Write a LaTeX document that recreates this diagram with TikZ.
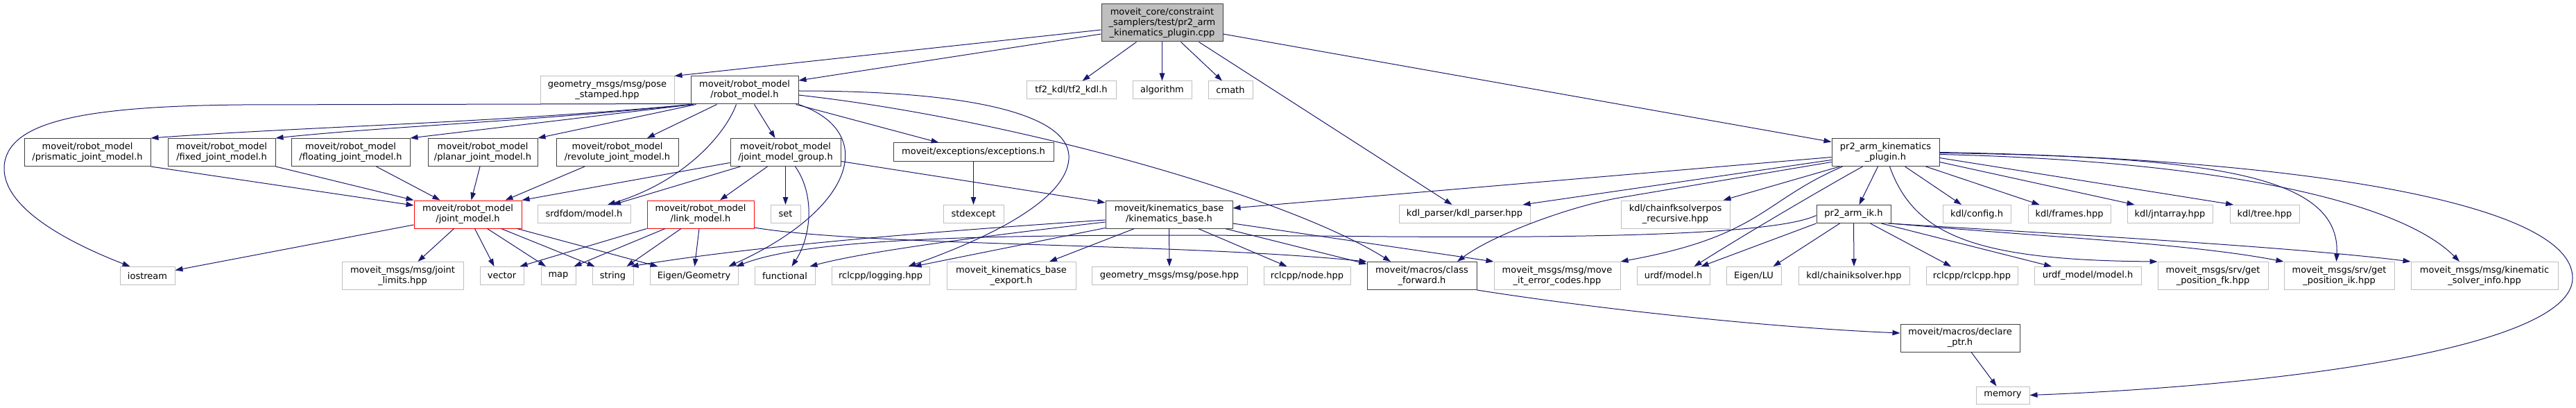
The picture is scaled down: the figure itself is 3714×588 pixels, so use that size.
\documentclass[tikz,border=0pt]{standalone}
\usepackage{fontspec}
\setmainfont{DejaVu Sans}
\usetikzlibrary{arrows.meta,calc}
\definecolor{edgec}{HTML}{191970}
\definecolor{greyB}{HTML}{BFBFBF}
\definecolor{greyD}{HTML}{404040}
\definecolor{redB}{HTML}{FF0000}
\tikzset{
  base/.style={rectangle, inner sep=0pt, align=center, fill=white, text=black,
    font=\fontsize{13pt}{15pt}\selectfont, line width=1pt},
  gbox/.style={base, draw=greyB},
  dbox/.style={base, draw=greyD},
  rbox/.style={base, draw=redB},
  mainbox/.style={base, draw=greyD, fill=greyB},
  sz/.style 2 args={minimum width=#1pt, minimum height=#2pt},
  edge/.style={draw=edgec, line width=1pt, -{Triangle[length=11pt,width=7.5pt]}}
}
\begin{document}
\begin{tikzpicture}[x=1pt,y=-1pt]
\fill[white] (0,0) rectangle (3714,588);
\useasboundingbox (0,0) rectangle (3714,588);
% rank 0
\node[mainbox,sz={175}{54}] (main) at (1675.5,33) {moveit\_core/constraint\\\_samplers/test/pr2\_arm\\\_kinematics\_plugin.cpp};
% rank 1
\node[gbox,sz={193}{40}] (pose) at (875.5,130) {geometry\_msgs/msg/pose\\\_stamped.hpp};
\node[dbox,sz={155}{40}] (robot) at (1073.5,130) {moveit/robot\_model\\/robot\_model.h};
\node[gbox,sz={129}{26}] (tf) at (1544.5,130) {tf2\_kdl/tf2\_kdl.h};
\node[gbox,sz={85}{26}] (algo) at (1675.5,130) {algorithm};
\node[gbox,sz={64}{26}] (cmath) at (1774,130) {cmath};
% rank 2
\node[dbox,sz={182}{40}] (prism) at (126,219.5) {moveit/robot\_model\\/prismatic\_joint\_model.h};
\node[dbox,sz={155}{40}] (fixed) at (319.5,219.5) {moveit/robot\_model\\/fixed\_joint\_model.h};
\node[dbox,sz={171}{40}] (float) at (505.5,219.5) {moveit/robot\_model\\/floating\_joint\_model.h};
\node[dbox,sz={158}{40}] (planar) at (696,219.5) {moveit/robot\_model\\/planar\_joint\_model.h};
\node[dbox,sz={176}{40}] (revol) at (890,219.5) {moveit/robot\_model\\/revolute\_joint\_model.h};
\node[dbox,sz={159}{40}] (jmg) at (1132.5,219.5) {moveit/robot\_model\\/joint\_model\_group.h};
\node[dbox,sz={231}{26}] (exc) at (1403.5,219) {moveit/exceptions/exceptions.h};
\node[dbox,sz={155}{40}] (plugin) at (2718.5,219.5) {pr2\_arm\_kinematics\\\_plugin.h};
% rank 3
\node[rbox,sz={155}{40}] (jm) at (674.5,309) {moveit/robot\_model\\/joint\_model.h};
\node[gbox,sz={134}{26}] (srdf) at (842,308.5) {srdfdom/model.h};
\node[rbox,sz={154}{40}] (lm) at (1010,309) {moveit/robot\_model\\/link\_model.h};
\node[gbox,sz={43}{26}] (set) at (1132.5,308.5) {set};
\node[gbox,sz={87}{26}] (stdex) at (1403.5,308.5) {stdexcept};
\node[dbox,sz={183}{40}] (kb) at (1685.5,309) {moveit/kinematics\_base\\/kinematics\_base.h};
\node[gbox,sz={189}{26}] (kdlp) at (2111.5,308.5) {kdl\_parser/kdl\_parser.hpp};
\node[gbox,sz={157}{40}] (cfk) at (2415.5,309) {kdl/chainfksolverpos\\\_recursive.hpp};
\node[dbox,sz={107}{26}] (ik) at (2672.5,308.5) {pr2\_arm\_ik.h};
\node[gbox,sz={98}{26}] (kcfg) at (2850,308.5) {kdl/config.h};
\node[gbox,sz={119}{26}] (kfr) at (2983.5,308.5) {kdl/frames.hpp};
\node[gbox,sz={123}{26}] (kjnt) at (3128.5,308.5) {kdl/jntarray.hpp};
\node[gbox,sz={100}{26}] (ktree) at (3265,308.5) {kdl/tree.hpp};
% rank 4
\node[gbox,sz={79}{26}] (ios) at (212.5,397.5) {iostream};
\node[gbox,sz={175}{40}] (jlim) at (580.5,397.5) {moveit\_msgs/msg/joint\\\_limits.hpp};
\node[gbox,sz={63}{26}] (vec) at (723.5,397.5) {vector};
\node[gbox,sz={50}{26}] (map) at (805,397.5) {map};
\node[gbox,sz={59}{26}] (str) at (883.5,397.5) {string};
\node[gbox,sz={127}{26}] (eig) at (1000.5,397.5) {Eigen/Geometry};
\node[gbox,sz={87}{26}] (func) at (1131.5,397.5) {functional};
\node[gbox,sz={141}{26}] (log) at (1269.5,397.5) {rclcpp/logging.hpp};
\node[gbox,sz={186}{40}] (kbx) at (1458,397.5) {moveit\_kinematics\_base\\\_export.h};
\node[gbox,sz={224}{26}] (pose2) at (1686,397.5) {geometry\_msgs/msg/pose.hpp};
\node[gbox,sz={125}{26}] (node) at (1884.5,397.5) {rclcpp/node.hpp};
\node[dbox,sz={158}{40}] (cfwd) at (2050,397.5) {moveit/macros/class\\\_forward.h};
\node[gbox,sz={182}{40}] (err) at (2245,397.5) {moveit\_msgs/msg/move\\\_it\_error\_codes.hpp};
\node[gbox,sz={105}{26}] (urdf) at (2412.5,397.5) {urdf/model.h};
\node[gbox,sz={79}{26}] (elu) at (2528.5,397.5) {Eigen/LU};
\node[gbox,sz={160}{26}] (cik) at (2673,397.5) {kdl/chainiksolver.hpp};
\node[gbox,sz={132}{26}] (rcl) at (2843,397.5) {rclcpp/rclcpp.hpp};
\node[gbox,sz={154}{26}] (urdfm) at (3010,397.5) {urdf\_model/model.h};
\node[gbox,sz={159}{40}] (gfk) at (3190.5,397.5) {moveit\_msgs/srv/get\\\_position\_fk.hpp};
\node[gbox,sz={159}{40}] (gik) at (3372.5,397.5) {moveit\_msgs/srv/get\\\_position\_ik.hpp};
\node[gbox,sz={212}{40}] (ksi) at (3582,397.5) {moveit\_msgs/msg/kinematic\\\_solver\_info.hpp};
% rank 5,6
\node[dbox,sz={172}{40}] (dptr) at (2826,487) {moveit/macros/declare\\\_ptr.h};
\node[gbox,sz={77}{25}] (mem) at (2887.5,569.5) {memory};

% ---- edges from main
\draw[edge] ($(main.west)+(0,10)$) -- (pose.north east);
\draw[edge] ($(main.west)+(0,16)$) -- ($(robot.east)+(0,-14)$);
\draw[edge] ($(main.south)+(-37,0)$) -- ($(tf.north)+(16,0)$);
\draw[edge] (main.south) -- (algo.north);
\draw[edge] ($(main.south)+(27,0)$) -- ($(cmath.north)+(-12,0)$);
\draw[edge] ($(main.south)+(53,0)$) -- ($(kdlp.north)+(-18,0)$);
\draw[edge] ($(main.east)+(0,16)$) -- ($(plugin.west)+(0,-15)$);

% ---- edges from robot_model
\draw[edge] ($(robot.south west)+(0,-1)$) -- (350,151) .. controls (120,153) and (10,175) .. (6,240) .. controls (3,300) and (100,350) .. ($(ios.north)+(-25,0)$);
\draw[edge] ($(robot.south west)+(2,0)$) .. controls (700,178) and (450,182) .. (prism.north east);
\draw[edge] ($(robot.south west)+(2,0)$) .. controls (750,176) and (560,182) .. (fixed.north east);
\draw[edge] ($(robot.south west)+(4,0)$) -- (float.north east);
\draw[edge] ($(robot.south west)+(8,0)$) -- (planar.north east);
\draw[edge] ($(robot.south)+(-40,0)$) -- ($(revol.north)+(43,0)$);
\draw[edge] ($(robot.south)+(14,0)$) -- ($(jmg.north)+(-15,0)$);
\draw[edge] ($(robot.south)+(-12,0)$) .. controls (1045,195) and (985,262) .. ($(srdf.north)+(34,0)$);
\draw[edge] (robot.south east) .. controls (1265,190) and (1235,300) .. ($(eig.north)+(50,0)$);
\draw[edge] ($(robot.east)+(0,1)$) .. controls (1420,131) and (1545,170) .. (1541,229) .. controls (1537,290) and (1420,345) .. ($(log.north)+(40,0)$);
\draw[edge] ($(robot.east)+(0,7)$) .. controls (1450,170) and (1850,280) .. ($(cfwd.north)+(-45,0)$);
\draw[edge] ($(robot.south east)+(-4,0)$) -- ($(exc.north)+(-50,0)$);

% ---- edges from joint_model_group
\draw[edge] ($(jmg.west)+(0,15)$) -- (jm.north east);
\draw[edge] ($(jmg.south west)+(15,0)$) -- ($(srdf.north)+(42,0)$);
\draw[edge] ($(jmg.south)+(-26,0)$) -- ($(lm.north)+(28,0)$);
\draw[edge] (jmg.south) -- (set.north);
\draw[edge] ($(jmg.south)+(14,0)$) .. controls (1175,280) and (1170,340) .. ($(func.north)+(10,0)$);
\draw[edge] ($(jmg.east)+(0,13)$) -- ($(kb.west)+(0,-17)$);

% ---- joint variants to joint_model
\draw[edge] (prism.south east) -- ($(jm.west)+(0,-13)$);
\draw[edge] (fixed.south east) -- (jm.north west);
\draw[edge] ($(float.south)+(37,0)$) -- ($(jm.north)+(-40,0)$);
\draw[edge] ($(planar.south)+(-4,0)$) -- ($(jm.north)+(5,0)$);
\draw[edge] ($(revol.south)+(-47,0)$) -- ($(jm.north)+(54,0)$);

% ---- joint_model
\draw[edge] ($(jm.west)+(0,15)$) -- ($(ios.east)+(0,-8)$);
\draw[edge] ($(jm.south)+(-20,0)$) -- ($(jlim.north)+(22,0)$);
\draw[edge] ($(jm.south)+(10,0)$) -- ($(vec.north)+(-11,0)$);
\draw[edge] ($(jm.south)+(28,0)$) -- ($(map.north)+(-18,0)$);
\draw[edge] ($(jm.south)+(48,0)$) -- ($(str.north)+(-26,0)$);
\draw[edge] ($(jm.south east)+(-7,0)$) -- ($(eig.north)+(-52,0)$);

% ---- link_model
\draw[edge] (lm.south west) -- ($(vec.north east)+(-6,0)$);
\draw[edge] ($(lm.south)+(-51,0)$) -- ($(map.north east)+(-3,0)$);
\draw[edge] ($(lm.south)+(-28,0)$) -- ($(str.north)+(20,0)$);
\draw[edge] ($(lm.south)+(-2,0)$) -- ($(eig.north)+(1,0)$);
\draw[edge] ($(lm.east)+(0,19)$) .. controls (1250,355) and (1700,350) .. (cfwd.north west);

% ---- kinematics_base
\draw[edge] ($(kb.south west)+(0,-1)$) -- ($(log.north)+(48,0)$);
\draw[edge] ($(kb.west)+(0,8)$) .. controls (1400,330) and (1100,352) .. ($(str.north east)+(-4,0)$);
\draw[edge] ($(kb.west)+(0,11)$) .. controls (1420,340) and (1250,362) .. ($(func.north east)+(-8,0)$);
\draw[edge] ($(kb.south)+(-50,0)$) -- ($(kbx.north)+(55,0)$);
\draw[edge] (kb.south) -- (pose2.north);
\draw[edge] ($(kb.south)+(42,0)$) -- ($(node.north)+(-29,0)$);
\draw[edge] ($(kb.south east)+(-11,0)$) -- ($(cfwd.west)+(0,-17)$);
\draw[edge] ($(kb.east)+(0,13)$) -- (err.north west);

% ---- pr2_arm_kinematics_plugin.h
\draw[edge] ($(plugin.west)+(0,7)$) -- ($(kb.east)+(0,-9)$);
\draw[edge] ($(plugin.west)+(0,11)$) -- ($(kdlp.north east)+(-11,0)$);
\draw[edge] ($(plugin.west)+(0,14)$) -- (2335,285) .. controls (2260,298) and (2150,340) .. ($(cfwd.north)+(51,0)$);
\draw[edge] ($(plugin.south west)+(12,0)$) -- ($(cfk.north east)+(-10,0)$);
\draw[edge] ($(plugin.south west)+(16,0)$) .. controls (2540,290) and (2540,340) .. (err.north east);
\draw[edge] ($(plugin.south)+(-33,0)$) .. controls (2640,265) and (2520,335) .. ($(urdf.north)+(30,0)$);
\draw[edge] ($(plugin.south)+(-11,0)$) -- ($(ik.north)+(8,0)$);
\draw[edge] ($(plugin.south)+(28,0)$) -- ($(kcfg.north)+(-22,0)$);
\draw[edge] ($(plugin.south)+(58,0)$) -- ($(kfr.north)+(-43,0)$);
\draw[edge] ($(plugin.east)+(0,14)$) -- ($(kjnt.north)+(-51,0)$);
\draw[edge] ($(plugin.east)+(0,8)$) -- ($(ktree.north)+(-45,0)$);
\draw[edge] ($(plugin.east)+(0,1)$) .. controls (3200,226) and (3375,255) .. ($(gik.north)+(-4,0)$);
\draw[edge] ($(plugin.east)+(0,3)$) .. controls (3200,232) and (3460,290) .. ($(ksi.north)+(-36,0)$);
\draw[edge] (plugin.east) .. controls (3300,228) and (3710,290) .. (3709,401) .. controls (3708,500) and (3300,555) .. (mem.east);
\draw[edge] ($(plugin.south)+(6,0)$) .. controls (2760,340) and (2850,375) .. (gfk.north west);

% ---- pr2_arm_ik.h
\draw[edge] ($(ik.south)+(-20,0)$) -- ($(elu.north)+(28,0)$);
\draw[edge] (ik.south) -- (cik.north);
\draw[edge] ($(ik.south)+(24,0)$) -- ($(rcl.north)+(-30,0)$);
\draw[edge] ($(ik.south)+(40,0)$) -- ($(urdfm.north)+(-52,0)$);
\draw[edge] (ik.south west) -- ($(urdf.north)+(40,0)$);
\draw[edge] ($(ik.west)+(0,2)$) .. controls (2560,338) and (2300,343) .. (2000,341) .. controls (1500,336) and (1180,338) .. ($(eig.north east)+(-3,0)$);
\draw[edge] (ik.south east) .. controls (2950,342) and (3150,350) .. (gik.north west);
\draw[edge] ($(ik.south east)+(-4,0)$) .. controls (2950,336) and (3300,355) .. (ksi.north west);

% ---- others
\draw[edge] (exc.south) -- (stdex.north);
\draw[edge] (cfwd.south east) .. controls (2300,445) and (2550,472) .. ($(dptr.west)+(0,-7)$);
\draw[edge] ($(dptr.south)+(16,0)$) -- ($(mem.north)+(-9,0)$);
\end{tikzpicture}
\end{document}
